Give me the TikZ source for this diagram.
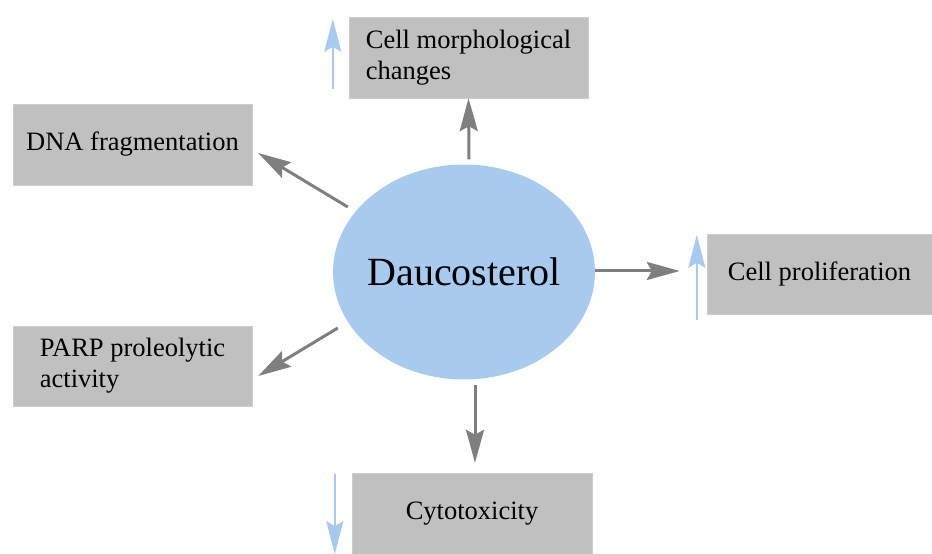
\documentclass[tikz,border=0pt]{standalone}
\usepackage{fontspec}
\setmainfont{Liberation Serif}
\usetikzlibrary{shapes.geometric,arrows.meta}
\definecolor{boxgray}{HTML}{C0C0C0}
\definecolor{arrgray}{HTML}{7F7F7F}
\definecolor{lblue}{HTML}{A8CAEF}
\begin{document}
\begin{tikzpicture}[x=1pt, y=1pt,
    box/.style={fill=boxgray, draw=boxgray!80!white, minimum width=239, minimum height=81, align=left, inner sep=0, font=\fontsize{26.5}{31}\selectfont},
    conn/.style={arrgray, line width=3pt, -{Stealth[length=33pt,width=18pt,inset=5pt]}},
    updown/.style={lblue, line width=2pt, -{Stealth[length=33pt,width=17pt,inset=5pt]}}]
    \useasboundingbox (0,0) rectangle (932,554);
    \node[ellipse, fill=lblue, minimum width=262, minimum height=215, inner sep=0,
        label={[font=\fontsize{40}{44}\selectfont]center:Daucosterol}] (dau) at (464,282) {};
    \node[box] (morph) at (468.5,496.5) {Cell morphological\\changes};
    \node[box] (dna) at (132.5,409.5) {DNA fragmentation};
    \node[box, minimum width=225, minimum height=80] (prolif) at (819.5,280) {Cell proliferation};
    \node[box, minimum height=80] (parp) at (132.5,188) {PARP proleolytic\\activity};
    \node[box, minimum width=240] (cyto) at (472,40.5) {Cytotoxicity};
    \draw[conn] ([xshift=5, yshift=5]dau.north) -- (morph.south);
    \draw[conn] ([xshift=15, yshift=65]dau.west) -- ([xshift=6, yshift=-8.5]dna.east);
    \draw[conn] ([yshift=1]dau.east) -- ([xshift=-27, yshift=3]prolif.west);
    \draw[conn] ([xshift=5, yshift=-56]dau.west) -- ([xshift=6, yshift=-10]parp.east);
    \draw[conn] ([xshift=11, yshift=-5]dau.south) -- ([xshift=3, yshift=10]cyto.north);
    \draw[updown] ([xshift=-16, yshift=9]morph.south west) -- ([xshift=-16, yshift=-2]morph.north west);
    \draw[updown] ([xshift=-10, yshift=-6]prolif.south west) -- ([xshift=-10, yshift=-1]prolif.north west);
    \draw[updown] ([xshift=-17, yshift=-1]cyto.north west) -- ([xshift=-17]cyto.south west);
\end{tikzpicture}
\end{document}
